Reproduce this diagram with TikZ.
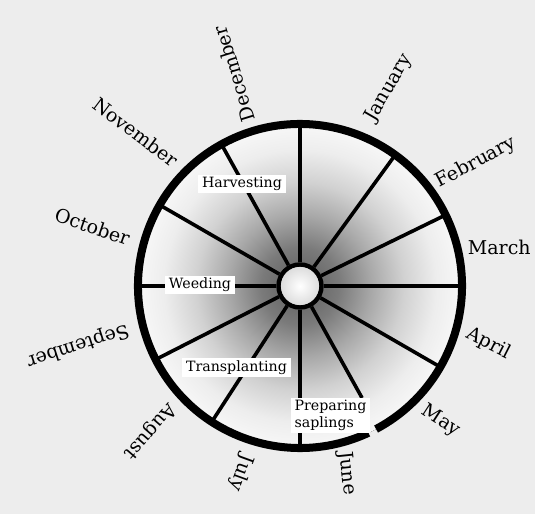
\documentclass[tikz,border=0pt]{standalone}
\usepackage{fontspec}
\setmainfont{DejaVu Serif}
\definecolor{bggray}{gray}{0.93}
\definecolor{shadeA}{gray}{0.36}
\definecolor{shadeB}{gray}{0.48}
\definecolor{shadeC}{gray}{0.66}
\definecolor{shadeD}{gray}{0.82}
\definecolor{shadeE}{gray}{0.93}
\definecolor{shadeF}{gray}{0.97}
\pgfdeclareradialshading{wheelshade}{\pgfpoint{0bp}{0bp}}{color(0bp)=(shadeA); color(6bp)=(shadeB);
 color(11bp)=(shadeC); color(16bp)=(shadeD); color(21bp)=(shadeE); color(25bp)=(shadeF); color(50bp)=(shadeF)}

\begin{document}
\begin{tikzpicture}[x=0.5pt,y=0.5pt,
 month/.style={font=\fontsize{9.5}{11}\selectfont,inner sep=0pt},
 task/.style={fill=white,inner xsep=2pt,inner ysep=1.2pt,font=\fontsize{7.1}{8}\selectfont},
 spoke/.style={line width=1.8pt},rim/.style={line width=4pt},
 hub/.style={circle,draw,line width=2.2pt,minimum size=21.5pt,inner sep=0pt,
  shading=radial,inner color=white,outer color=black!15}]
\fill[bggray] (-300,-228) rectangle (235,286);
\useasboundingbox (-300,-228) rectangle (235,286);
% the wheel
\fill[shading=wheelshade] (0,0) circle (162);
\node[hub] (hub) at (0,0) {};
\coordinate (s1) at (90:162); \coordinate (s2) at (54:162); \coordinate (s3) at (26:162);
\coordinate (s4) at (0:162); \coordinate (s5) at (-30:162); \coordinate (s6) at (-61:128);
\coordinate (s7) at (-90:162); \coordinate (s8) at (-123:162); \coordinate (s9) at (-153:162);
\coordinate (s10) at (180:162); \coordinate (s11) at (150:162); \coordinate (s12) at (119:162);
\draw[spoke] (hub)--(s1); \draw[spoke] (hub)--(s2); \draw[spoke] (hub)--(s3);
\draw[spoke] (hub)--(s4); \draw[spoke] (hub)--(s5); \draw[spoke] (hub)--(s6);
\draw[spoke] (hub)--(s7); \draw[spoke] (hub)--(s8); \draw[spoke] (hub)--(s9);
\draw[spoke] (hub)--(s10); \draw[spoke] (hub)--(s11); \draw[spoke] (hub)--(s12);
\draw[rim] (-62:162) arc[start angle=-62,end angle=295,radius=162];
% work in the field
\node[task] (harv) at (-58,102) {Harvesting};
\node[task] (weed) at (-100,1) {Weeding};
\node[task] (trans) at (-63.5,-81.5) {Transplanting};
\node[task,align=left,font=\fontsize{7.1}{8.3}\selectfont] (prep) at (30.5,-129.5) {Preparing\\saplings};
% months
\node[month,rotate=60] (jan) at (65.8:217) {January};
\node[month,rotate=28] (feb) at (35:215) {February};
\node[month] (mar) at (11:203) {March};
\node[month,rotate=-27] (apr) at (-17:197) {April};
\node[month,rotate=-33] (may) at (-43.8:195) {May};
\node[month,rotate=-84] (jun) at (-75.9:193) {June};
\node[month,rotate=-110] (jul) at (-107.5:196) {July};
\node[month,rotate=-131] (aug) at (-136:209) {August};
\node[month,rotate=-162] (sep) at (-165:230) {September};
\node[month,rotate=-19] (oct) at (164:216) {October};
\node[month,rotate=-37] (nov) at (136.8:225) {November};
\node[month,rotate=107] (dec) at (107.3:222) {December};
\end{tikzpicture}
\end{document}
